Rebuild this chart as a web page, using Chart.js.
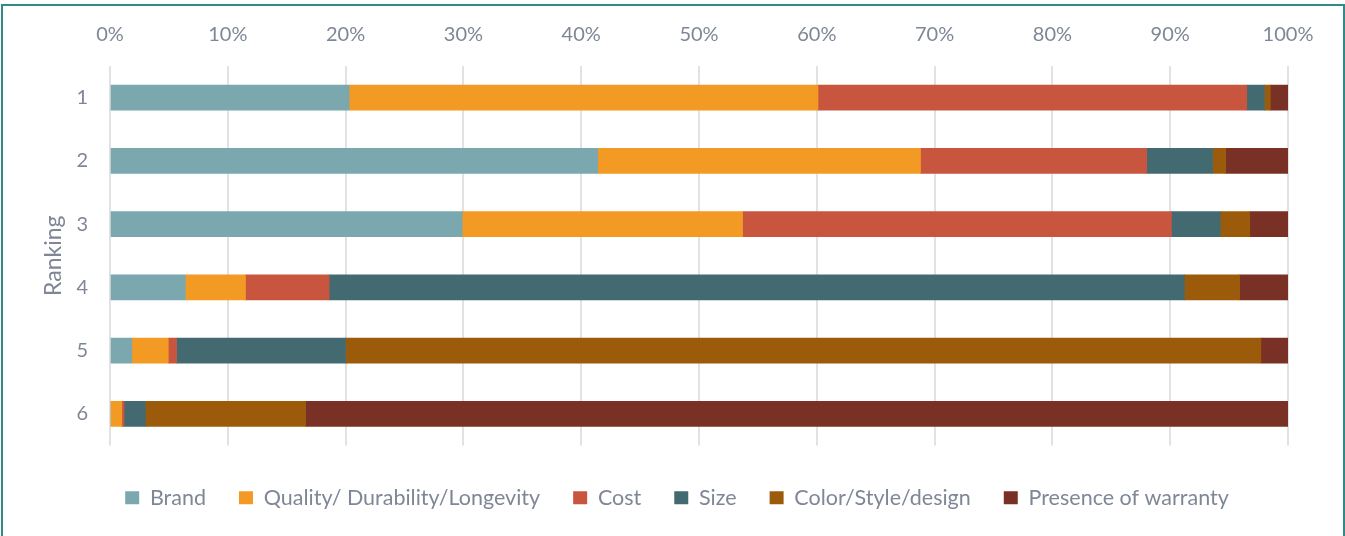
<!DOCTYPE html>
<html>
<head>
<meta charset="utf-8">
<script src="https://cdn.jsdelivr.net/npm/chart.js@4/dist/chart.umd.min.js"></script>
<style>
  body { margin: 0; background: #fff; }
  #wrap { position: absolute; left: 0; top: 0; width: 1345px; height: 536px; }
  #frame { position: absolute; left: 1px; top: 4px; width: 1340px; height: 540px;
    border: 2px solid #2f8a8a; pointer-events: none; }
</style>
</head>
<body>
<div id="wrap"><canvas id="myChart" width="1345" height="536"></canvas></div>
<div id="frame"></div>
<script>
// rankings on the y axis
const rankings = ["1", "2", "3", "4", "5", "6"];

// share of each factor per ranking (%)
const brand = [20.3, 41.4, 29.9, 6.4, 1.85, 0];
const quality = [39.8, 27.4, 23.8, 5.1, 3.1, 1.0];
const cost = [36.4, 19.2, 36.4, 7.1, 0.7, 0.2];
const size = [1.5, 5.6, 4.15, 72.6, 14.35, 1.8];
const colorStyle = [0.5, 1.1, 2.5, 4.7, 77.7, 13.6];
const warranty = [1.5, 5.3, 3.25, 4.1, 2.3, 83.4];

const seriesNames = ["Brand", "Quality/ Durability/Longevity", "Cost", "Size", "Color/Style/design", "Presence of warranty"];
const xTicks = [0, 10, 20, 30, 40, 50, 60, 70, 80, 90, 100];

const colors = ["#7ba8ae", "#f29a24", "#c8563f", "#446a71", "#9c5b0a", "#7a3125"];
const textColor = "#7f8796";

Chart.defaults.font.family = "Lato, 'Open Sans', sans-serif";
Chart.defaults.color = textColor;

const allSeries = [brand, quality, cost, size, colorStyle, warranty];

// the legend sits a bit right of the plot centre in the original
const legendShift = {
  id: "legendShift",
  afterLayout(chart) {
    if (chart.legend) {
      chart.legend.left += 33;
      chart.legend.right += 33;
    }
  },
};

const data = {
  labels: rankings,
  datasets: allSeries.map((values, i) => ({
    label: seriesNames[i],
    data: values,
    backgroundColor: colors[i],
    borderWidth: 0,
    barThickness: 25,
  })),
};

const config = {
  type: "bar",
  data: data,
  plugins: [legendShift],
  options: {
    indexAxis: "y",
    responsive: false,
    animation: false,
    layout: {
      padding: { left: 0, right: 57, top: 0, bottom: 17.5 },
    },
    plugins: {
      legend: {
        position: "bottom",
        title: { display: true, text: "", font: { size: 6 }, padding: { top: 1.3, bottom: 0 } },
        labels: {
          boxWidth: 14,
          boxHeight: 13,
          padding: 33,
          color: textColor,
          font: { size: 21.5 },
        },
      },
      tooltip: { enabled: false },
    },
    scales: {
      x: {
        position: "top",
        stacked: true,
        min: 0,
        max: 100,
        afterFit: (scale) => { scale.height = 66; },
        afterBuildTicks: (scale) => { scale.ticks = xTicks.map((v) => ({ value: v })); },
        ticks: {
          padding: 19,
          color: textColor,
          font: { size: 20 },
          callback: (v) => v + "%",
        },
        grid: { color: "#e2e2e6", lineWidth: 2, drawTicks: false },
        border: { display: false },
      },
      y: {
        stacked: true,
        afterFit: (scale) => { scale.width = 110; },
        ticks: { padding: 22, color: textColor, font: { size: 20 } },
        grid: { display: false, drawTicks: false },
        border: { display: false },
        title: {
          display: true,
          text: "Ranking",
          color: textColor,
          font: { size: 23 },
          padding: { top: 40, bottom: 0 },
        },
      },
    },
  },
};

const myChart = new Chart(document.getElementById("myChart"), config);
</script>
</body>
</html>
